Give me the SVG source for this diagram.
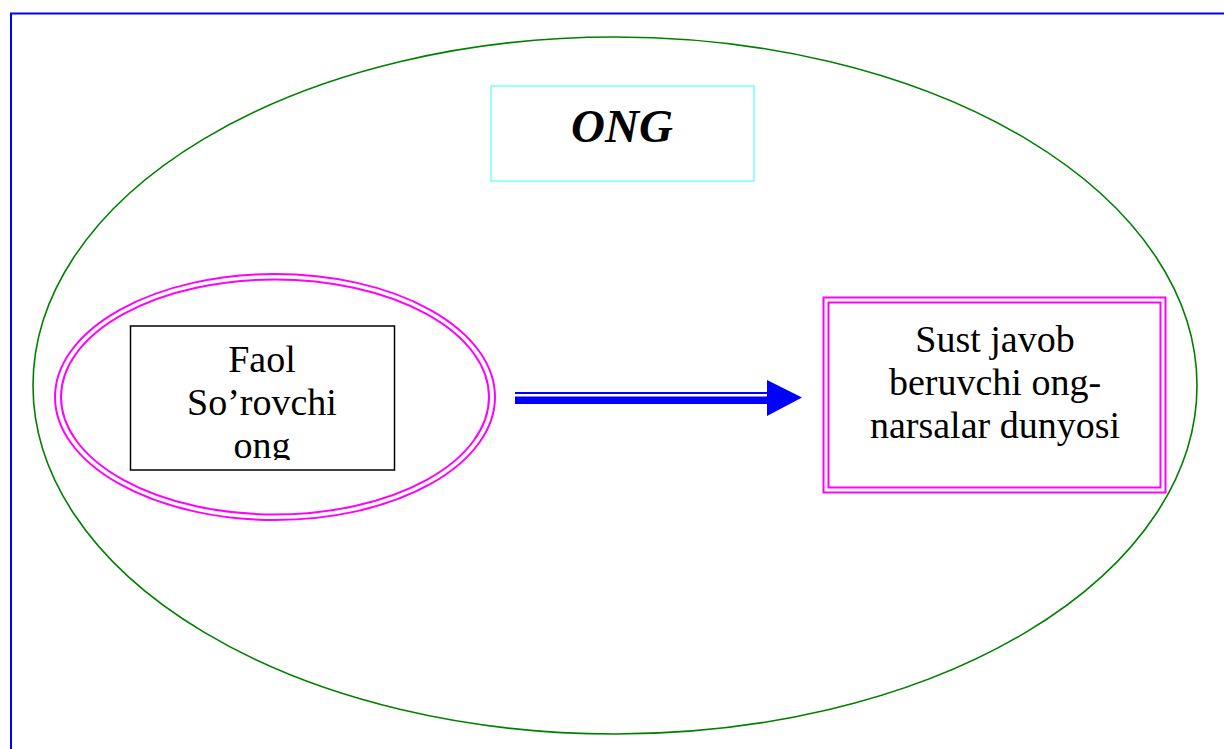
<svg xmlns="http://www.w3.org/2000/svg" width="1224" height="749" viewBox="0 0 1224 749">
<style>
.t{font-family:"Liberation Serif","Times New Roman",serif;font-size:38px;fill:#000;text-anchor:middle}
.pk{fill:none;stroke:#ff00ff;stroke-width:2}
</style>
<defs>
<clipPath id="c1"><rect x="131" y="327" width="263" height="133"/></clipPath>
</defs>
<rect width="1224" height="749" fill="#fff"/>
<path d="M11 760 V13.5 H1240" fill="none" stroke="#0000ff" stroke-width="2"/>
<g id="outer">
<ellipse cx="615" cy="385.5" rx="582" ry="348.5" fill="none" stroke="#008000" stroke-width="1.6"/>
</g>
<g id="title">
<rect x="491" y="86" width="263" height="95" fill="#fff" stroke="#33ffff" stroke-width="1"/>
<text x="622" y="142" font-family="Liberation Serif,'Times New Roman',serif" font-size="47" font-weight="bold" font-style="italic" text-anchor="middle">ONG</text>
</g>
<g id="faol">
<ellipse class="pk" cx="275" cy="397" rx="220" ry="123"/>
<ellipse class="pk" cx="275" cy="397" rx="214" ry="117.5"/>
<rect x="130.5" y="326" width="264" height="144" fill="#fff" stroke="#000" stroke-width="1.5"/>
<g clip-path="url(#c1)">
<text class="t" x="262" y="372">Faol</text>
<text class="t" x="262" y="415">So’rovchi</text>
<text class="t" x="262" y="458">ong</text>
</g>
</g>
<g id="sust">
<rect class="pk" x="823.5" y="297.5" width="342" height="195"/>
<rect class="pk" x="828.5" y="302.5" width="332" height="185"/>
<text class="t" x="995" y="352">Sust javob</text>
<text class="t" x="995" y="395">beruvchi ong-</text>
<text class="t" x="995" y="438">narsalar dunyosi</text>
</g>
<g id="connectors">
<rect x="515" y="392" width="253" height="2" fill="#0000ff"/>
<rect x="515" y="396.5" width="253" height="7.5" fill="#0000ff"/>
<polygon points="767,380 802,397.5 767,416" fill="#0000ff"/>
</g>
</svg>
